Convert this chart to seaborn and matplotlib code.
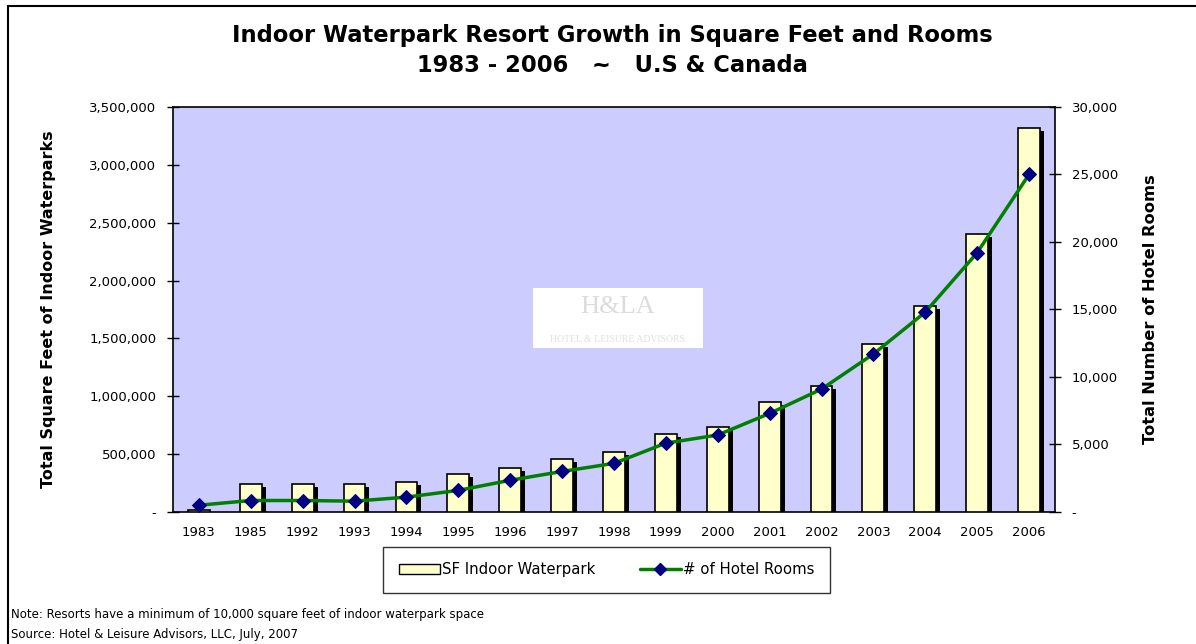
import numpy as np
import seaborn as sns
import matplotlib.pyplot as plt
import matplotlib.transforms as mtransforms
from matplotlib.patches import Patch, Rectangle
from matplotlib.lines import Line2D
from matplotlib.ticker import FuncFormatter, FixedLocator

years = ['1983', '1985', '1992', '1993', '1994', '1995', '1996', '1997', '1998',
         '1999', '2000', '2001', '2002', '2003', '2004', '2005', '2006']
sq_feet = [20000, 240000, 240000, 240000, 255000, 330000, 380000, 460000, 515000,
           675000, 735000, 950000, 1090000, 1450000, 1780000, 2400000, 3320000]
rooms = [500, 850, 850, 800, 1100, 1600, 2350, 3000, 3600,
         5100, 5700, 7300, 9100, 11700, 14800, 19200, 25000]

sns.set_style('white')
plt.rcParams['font.family'] = ['DejaVu Sans']
plt.rcParams['text.color'] = 'black'
plt.rcParams['axes.labelcolor'] = 'black'
plt.rcParams['xtick.color'] = 'black'
plt.rcParams['ytick.color'] = 'black'

fig = plt.figure(figsize=(11.96, 6.44), dpi=100)
ax = fig.add_axes([0.1446, 0.205, 0.7375, 0.629])
ax.set_facecolor('#CCCCFF')

# shadow bars, shifted right and down
shadow = mtransforms.ScaledTranslation(4 / 100, -3 / 100, fig.dpi_scale_trans)
sns.barplot(x=years, y=sq_feet, color='black', width=0.42, saturation=1,
            linewidth=0, ax=ax, zorder=2)
for p in ax.patches:
    p.set_transform(ax.transData + shadow)
sns.barplot(x=years, y=sq_feet, color='#FFFFCC', width=0.42, saturation=1,
            edgecolor='black', linewidth=1.2, ax=ax, zorder=3)

ax.set_ylim(0, 3500000)
ax.set_xlim(-0.5, len(years) - 0.5)
ax.set_yticks(np.arange(0, 3500001, 500000))
ax.yaxis.set_major_formatter(FuncFormatter(lambda v, _: '-' if v == 0 else f'{int(v):,}'))
ax.tick_params(axis='y', direction='inout', length=8, width=1, labelsize=9.5, pad=8)
ax.tick_params(axis='x', which='major', length=0, labelsize=9.5, pad=10)
ax.xaxis.set_minor_locator(FixedLocator(np.arange(-0.5, len(years), 1)))
ax.tick_params(axis='x', which='minor', direction='out', length=6, width=1, color='#333333')
ax.set_xlabel('')
ax.set_ylabel('Total Square Feet of Indoor Waterparks', fontsize=11.5,
              fontweight='bold', labelpad=24)
for s in ax.spines.values():
    s.set_color('black')
    s.set_linewidth(1.2)

ax2 = ax.twinx()
sns.lineplot(x=np.arange(len(years)), y=rooms, ax=ax2, color='#008000', linewidth=2.5,
             marker='D', markersize=7, markerfacecolor='#000080',
             markeredgecolor='#000080', zorder=5)
ax2.set_ylim(0, 30000)
ax2.set_yticks(np.arange(0, 30001, 5000))
ax2.yaxis.set_major_formatter(FuncFormatter(lambda v, _: '-' if v == 0 else f'{int(v):,}'))
ax2.tick_params(axis='y', direction='inout', length=8, width=1, labelsize=9.5, pad=8)
ax2.set_ylabel('Total Number of Hotel Rooms', fontsize=11.7, fontweight='bold', labelpad=18)
for s in ax2.spines.values():
    s.set_visible(False)

# watermark
ax.add_patch(Rectangle((0.408, 0.405), 0.193, 0.148, transform=ax.transAxes,
                       facecolor='white', edgecolor='none', zorder=1))
ax.text(0.5045, 0.505, 'H&LA', transform=ax.transAxes, ha='center', va='center',
        fontsize=19, color='#DCDCDC', family='Liberation Serif', zorder=1.5)
ax.text(0.5045, 0.425, 'HOTEL & LEISURE ADVISORS', transform=ax.transAxes,
        ha='center', va='center', fontsize=7, color='#E0E0E0',
        family='Liberation Serif', zorder=1.5)

fig.text(0.512, 0.945, 'Indoor Waterpark Resort Growth in Square Feet and Rooms',
         ha='center', va='center', fontsize=16.3, fontweight='bold')
fig.text(0.512, 0.898, '1983 - 2006   ~   U.S & Canada',
         ha='center', va='center', fontsize=16.3, fontweight='bold')

handles = [Patch(facecolor='#FFFFCC', edgecolor='black', linewidth=1),
           Line2D([0], [0], color='#008000', linewidth=2.5, marker='D',
                  markersize=6, markerfacecolor='#000080', markeredgecolor='#000080')]
leg = fig.legend(handles, ['SF Indoor Waterpark', '# of Hotel Rooms'], ncol=2,
                 loc='center', bbox_to_anchor=(0.507, 0.115), fontsize=10.7,
                 frameon=True, fancybox=False, edgecolor='black',
                 borderpad=1.05, columnspacing=3.0, handlelength=2.8, handletextpad=0.1,
                 borderaxespad=0)
leg.get_frame().set_linewidth(1)

fig.text(0.009, 0.046, 'Note: Resorts have a minimum of 10,000 square feet of indoor waterpark space',
         fontsize=8.5, va='center')
fig.text(0.009, 0.015, 'Source: Hotel & Leisure Advisors, LLC, July, 2007',
         fontsize=8.5, va='center')

# outer frame (left and top edges)
fig.add_artist(Line2D([0.0065, 0.0065], [0, 0.991], color='black', linewidth=1.5,
                      transform=fig.transFigure))
fig.add_artist(Line2D([0.0065, 1], [0.991, 0.991], color='black', linewidth=1.5,
                      transform=fig.transFigure))

fig.savefig('out.png', dpi=100)
